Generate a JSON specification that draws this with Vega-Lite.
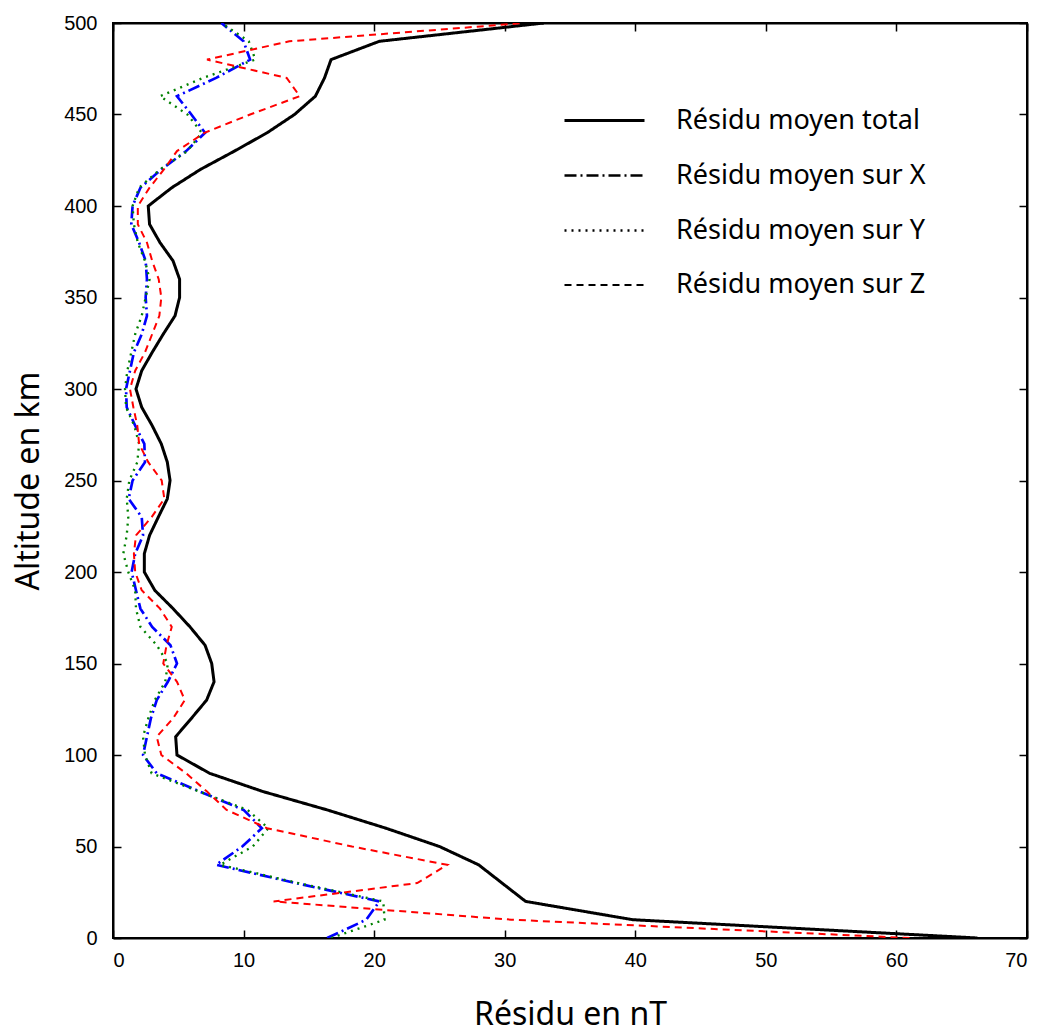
{
  "$schema": "https://vega.github.io/schema/vega-lite/v6.json",
  "width": 914,
  "height": 915,
  "autosize": "none",
  "padding": {"left": 113, "top": 23, "right": 19, "bottom": 94},
  "background": "white",
  "config": {
    "view": {"stroke": "black", "strokeWidth": 2},
    "axis": {
      "grid": false,
      "domainColor": "black",
      "domainWidth": 2,
      "tickColor": "black",
      "tickWidth": 1.5,
      "tickSize": -8,
      "labelFont": "Liberation Sans",
      "labelFontSize": 20,
      "labelColor": "black",
      "titleFont": "Noto Sans",
      "titleFontSize": 32,
      "titleFontWeight": "normal",
      "titleColor": "black"
    },
    "legend": {
      "labelFont": "Noto Sans",
      "labelFontSize": 27,
      "labelColor": "black",
      "labelLimit": 500,
      "symbolStrokeColor": "black"
    }
  },
  "data": {
    "values": [
      {"alt": 500, "total": 33.0, "X": 8.3, "Y": 8.3, "Z": 31.5},
      {"alt": 490, "total": 20.4, "X": 10.0, "Y": 10.4, "Z": 13.5},
      {"alt": 480, "total": 16.7, "X": 10.5, "Y": 10.9, "Z": 7.2},
      {"alt": 470, "total": 16.2, "X": 7.9, "Y": 6.9, "Z": 13.3},
      {"alt": 460, "total": 15.5, "X": 4.9, "Y": 3.6, "Z": 14.3},
      {"alt": 450, "total": 13.9, "X": 6.0, "Y": 5.7, "Z": 10.5},
      {"alt": 440, "total": 11.8, "X": 7.05, "Y": 6.8, "Z": 7.0},
      {"alt": 430, "total": 9.3, "X": 5.6, "Y": 5.7, "Z": 4.9},
      {"alt": 420, "total": 6.7, "X": 3.7, "Y": 3.6, "Z": 3.9},
      {"alt": 410, "total": 4.5, "X": 2.1, "Y": 2.0, "Z": 2.8},
      {"alt": 400, "total": 2.7, "X": 1.5, "Y": 1.5, "Z": 1.9},
      {"alt": 390, "total": 2.8, "X": 1.4, "Y": 1.6, "Z": 1.9},
      {"alt": 380, "total": 3.6, "X": 2.0, "Y": 1.9, "Z": 2.6},
      {"alt": 370, "total": 4.6, "X": 2.5, "Y": 2.45, "Z": 3.0},
      {"alt": 360, "total": 5.1, "X": 2.6, "Y": 2.8, "Z": 3.5},
      {"alt": 350, "total": 5.1, "X": 2.5, "Y": 2.5, "Z": 3.7},
      {"alt": 340, "total": 4.75, "X": 2.6, "Y": 2.2, "Z": 3.55},
      {"alt": 330, "total": 3.85, "X": 2.2, "Y": 1.7, "Z": 3.0},
      {"alt": 320, "total": 3.0, "X": 1.6, "Y": 1.4, "Z": 2.45},
      {"alt": 310, "total": 2.2, "X": 1.3, "Y": 1.1, "Z": 1.7},
      {"alt": 300, "total": 1.76, "X": 1.0, "Y": 0.92, "Z": 1.3},
      {"alt": 290, "total": 2.2, "X": 1.05, "Y": 1.0, "Z": 1.56},
      {"alt": 280, "total": 3.0, "X": 1.7, "Y": 1.63, "Z": 1.86},
      {"alt": 270, "total": 3.7, "X": 2.4, "Y": 2.0, "Z": 2.0},
      {"alt": 260, "total": 4.16, "X": 2.45, "Y": 1.86, "Z": 2.7},
      {"alt": 250, "total": 4.37, "X": 1.5, "Y": 1.25, "Z": 3.73},
      {"alt": 240, "total": 4.16, "X": 1.2, "Y": 1.05, "Z": 3.93},
      {"alt": 230, "total": 3.47, "X": 2.2, "Y": 1.17, "Z": 2.96},
      {"alt": 220, "total": 2.8, "X": 2.3, "Y": 1.05, "Z": 1.76},
      {"alt": 210, "total": 2.4, "X": 1.7, "Y": 0.79, "Z": 1.6},
      {"alt": 200, "total": 2.4, "X": 1.43, "Y": 1.17, "Z": 1.7},
      {"alt": 190, "total": 3.2, "X": 1.76, "Y": 1.7, "Z": 2.2},
      {"alt": 180, "total": 4.6, "X": 2.1, "Y": 1.76, "Z": 3.6},
      {"alt": 170, "total": 5.9, "X": 3.0, "Y": 2.1, "Z": 4.5},
      {"alt": 160, "total": 7.05, "X": 4.4, "Y": 3.35, "Z": 4.1},
      {"alt": 150, "total": 7.56, "X": 4.9, "Y": 4.2, "Z": 3.85},
      {"alt": 140, "total": 7.74, "X": 4.2, "Y": 4.0, "Z": 4.9},
      {"alt": 130, "total": 7.17, "X": 3.35, "Y": 3.2, "Z": 5.5},
      {"alt": 120, "total": 6.0, "X": 2.9, "Y": 2.7, "Z": 4.6},
      {"alt": 110, "total": 4.8, "X": 2.6, "Y": 2.3, "Z": 3.35},
      {"alt": 100, "total": 4.9, "X": 2.3, "Y": 2.45, "Z": 3.7},
      {"alt": 90, "total": 7.4, "X": 3.35, "Y": 2.96, "Z": 5.6},
      {"alt": 80, "total": 11.5, "X": 6.66, "Y": 6.6, "Z": 7.2},
      {"alt": 70, "total": 16.4, "X": 10.0, "Y": 10.3, "Z": 8.7},
      {"alt": 60, "total": 20.9, "X": 11.4, "Y": 11.9, "Z": 11.8},
      {"alt": 50, "total": 25.0, "X": 9.9, "Y": 10.7, "Z": 18.3},
      {"alt": 40, "total": 28.0, "X": 7.9, "Y": 8.2, "Z": 25.6},
      {"alt": 30, "total": 29.8, "X": 14.0, "Y": 14.2, "Z": 23.3},
      {"alt": 20, "total": 31.6, "X": 20.4, "Y": 20.7, "Z": 12.3},
      {"alt": 10, "total": 39.8, "X": 19.4, "Y": 20.8, "Z": 30.5},
      {"alt": 0, "total": 66.2, "X": 16.4, "Y": 16.7, "Z": 61.0}
    ]
  },
  "transform": [{"fold": ["total", "X", "Y", "Z"], "as": ["serie", "v"]}],
  "layer": [
    {
      "mark": {"type": "line", "clip": true},
      "encoding": {
        "x": {
          "field": "v", "type": "quantitative",
          "scale": {"domain": [0, 70], "nice": false, "zero": false},
          "axis": {"orient": "bottom", "values": [0, 10, 20, 30, 40, 50, 60, 70], "labelPadding": 20, "title": "Résidu en nT", "titlePadding": 29}
        },
        "y": {
          "field": "alt", "type": "quantitative",
          "scale": {"domain": [0, 500], "nice": false},
          "axis": {"orient": "left", "values": [0, 50, 100, 150, 200, 250, 300, 350, 400, 450, 500], "labelPadding": 24, "title": "Altitude en km", "titlePadding": 18}
        },
        "order": {"field": "alt", "type": "quantitative"},
        "color": {
          "field": "serie", "type": "nominal",
          "scale": {"domain": ["X", "Y", "Z", "total"], "range": ["#0000ff", "#008000", "#ff0000", "#000000"]},
          "legend": null
        },
        "strokeDash": {
          "field": "serie", "type": "nominal",
          "scale": {"domain": ["total", "X", "Y", "Z"], "range": [[1, 0], [12, 4, 2, 4], [2, 5], [7, 5]]},
          "legend": {
            "title": null,
            "orient": "none",
            "legendX": 450,
            "legendY": 56,
            "symbolType": "stroke",
            "symbolSize": 6400,
            "symbolStrokeColor": "black",
            "rowPadding": -1,
            "labelOffset": 30,
            "labelExpr": "datum.value == 'total' ? 'Résidu moyen total' : 'Résidu moyen sur ' + datum.value"
          }
        },
        "strokeWidth": {
          "field": "serie", "type": "ordinal",
          "scale": {"domain": ["total", "X", "Y", "Z"], "range": [3, 2, 2, 2]},
          "legend": {
            "title": null,
            "orient": "none",
            "legendX": 450,
            "legendY": 56,
            "symbolType": "stroke",
            "symbolSize": 6400,
            "symbolStrokeColor": "black",
            "rowPadding": -1,
            "labelOffset": 30,
            "labelExpr": "datum.value == 'total' ? 'Résidu moyen total' : 'Résidu moyen sur ' + datum.value"
          }
        }
      }
    },
    {
      "mark": {"type": "point", "opacity": 0},
      "encoding": {
        "x": {"field": "v", "type": "quantitative", "axis": {"orient": "top", "values": [0, 10, 20, 30, 40, 50, 60, 70], "labels": false, "title": null}},
        "y": {"field": "alt", "type": "quantitative", "axis": {"orient": "right", "values": [0, 50, 100, 150, 200, 250, 300, 350, 400, 450, 500], "labels": false, "title": null}}
      }
    }
  ],
  "resolve": {"axis": {"x": "independent", "y": "independent"}}
}
